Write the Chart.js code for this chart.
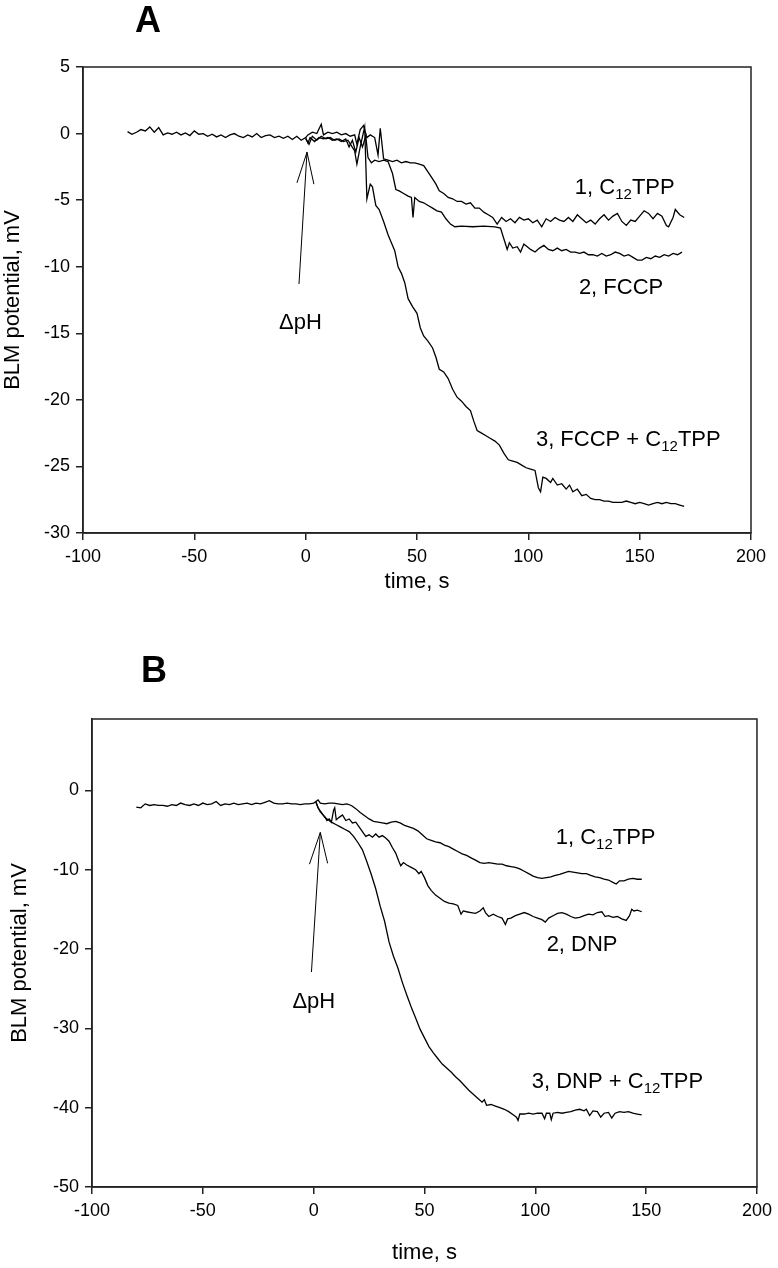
<!DOCTYPE html>
<html>
<head>
<meta charset="utf-8">
<script src="https://cdn.jsdelivr.net/npm/chart.js@4/dist/chart.umd.min.js"></script>
<style>
  body { margin: 0; background: #fff; width: 778px; height: 1268px; position: relative; overflow: hidden; }
  canvas { position: absolute; left: 0; }
  #panelA { top: 0; }
  #panelB { top: 640px; }
</style>
</head>
<body>
<canvas id="panelA" width="778" height="620"></canvas>
<canvas id="panelB" width="778" height="628"></canvas>
<script>
// ---- data (time s, BLM potential mV) ----

// axis ticks
const xTicks = [-100, -50, 0, 50, 100, 150, 200];
const aYTicks = [5, 0, -5, -10, -15, -20, -25, -30];
const bYTicks = [0, -10, -20, -30, -40, -50];

// panel A, 1: C12TPP (includes the common baseline before ΔpH)
const a1 = [
  [-80,0.15],[-78,-0.05],[-76,0.1],[-74,0.3],[-72,0.2],[-70,0.5],[-68,0.1],[-66,0.45],[-64,-0.1],[-62,0.05],
  [-60,-0.05],[-58,0.1],[-56,-0.1],[-54,0.05],[-52,-0.15],[-50,0.2],[-48,-0.05],[-46,0.0],[-44,-0.2],[-42,-0.05],
  [-40,-0.25],[-38,-0.1],[-36,-0.3],[-34,-0.1],[-32,0.0],[-30,-0.2],[-28,-0.3],[-26,-0.1],[-24,-0.25],[-22,0.0],
  [-20,-0.3],[-18,-0.15],[-16,-0.1],[-14,-0.3],[-12,-0.2],[-10,-0.35],[-8,-0.2],[-6,-0.45],[-4,-0.2],[-2,-0.5],[0,-0.3],
  [1,-0.1],[3,0.1],[5,0.0],[7,0.7],[8,-0.1],[10,0.1],[12,0.0],[14,0.1],[16,-0.1],[18,0.0],[20,-0.2],[22,-0.1],
  [23,-0.8],[24.5,0.3],[26,0.6],[27.5,-0.3],[29,-0.1],[31,-0.3],[32.5,-1.6],[33.5,0.4],[35,-1.9],[37,-2.0],[39,-2.1],
  [41,-2.0],[43,-2.2],[45,-2.1],[47,-2.2],[49,-2.2],[51,-2.3],[53,-2.4],[55,-2.9],[57,-3.4],[58.5,-3.8],[60,-4.3],
  [62,-4.5],[64,-4.8],[66,-4.9],[68,-5.1],[70,-5.1],[72,-5.3],[74,-5.2],[76,-5.6],[78,-5.6],[80,-5.9],[82,-6.1],
  [84,-6.3],[86,-6.8],[88,-6.3],[90,-6.6],[92,-6.4],[94,-6.7],[96,-6.3],[98,-6.5],[100,-6.4],[102,-6.7],[104,-6.5],
  [106,-7.0],[108,-6.4],[110,-6.6],[112,-6.3],[114,-6.5],[116,-6.6],[118,-6.3],[120,-6.6],[122,-6.1],[124,-6.4],
  [126,-6.7],[128,-6.5],[130,-6.8],[132,-6.4],[134,-6.1],[136,-6.5],[138,-6.2],[140,-6.0],[142,-6.6],[144,-6.9],
  [146,-6.5],[148,-6.6],[150,-6.2],[152,-5.8],[154,-6.0],[156,-6.4],[158,-6.0],[160,-6.2],[162,-6.9],[163,-7.0],
  [165,-6.3],[166,-5.7],[168,-6.1],[170,-6.3]
];

// panel A, 2: FCCP
const a2 = [
  [0,-0.3],[1,-0.7],[2,-0.3],[4,-0.6],[6,-0.3],[8,-0.4],[10,-0.3],[12,-0.5],[14,-0.4],[16,-0.6],[18,-0.4],
  [19.5,-1.0],[21,-0.5],[22.5,-1.4],[24,-0.3],[25.5,-1.0],[27,-0.2],[28,-1.8],[29.5,-2.2],[31,-2.0],[33,-2.1],
  [35,-2.0],[37,-2.1],[39,-3.0],[40.5,-4.2],[42,-4.3],[44,-4.5],[46,-4.7],[47.5,-4.8],[48.2,-6.3],[49,-4.8],
  [51,-5.1],[53,-5.2],[55,-5.4],[57,-5.6],[59,-5.8],[61,-5.9],[63,-6.4],[65,-6.8],[67,-7.0],[70,-6.95],[75,-7.0],
  [80,-6.95],[85,-7.0],[87.5,-7.1],[89,-7.9],[90.5,-8.7],[91.5,-8.2],[93,-8.6],[95,-8.5],[96.5,-8.9],[98,-8.3],
  [99.5,-8.5],[101,-8.7],[103,-8.9],[105,-8.6],[107,-8.4],[109,-8.7],[111,-8.8],[113,-8.6],[115,-8.8],[117,-8.7],
  [119,-8.9],[121,-8.9],[123,-9.0],[125,-8.9],[127,-9.1],[129,-9.1],[131,-9.2],[133,-9.0],[135,-9.2],[137,-9.1],
  [139,-8.9],[141,-9.0],[143,-9.2],[145,-9.1],[147,-9.3],[149,-9.5],[151,-9.5],[153,-9.3],[155,-9.4],[157,-9.2],
  [159,-9.3],[161,-9.1],[163,-9.2],[165,-9.0],[167,-9.1],[169,-8.9]
];

// panel A, 3: FCCP + C12TPP
const a3 = [
  [0,-0.4],[1.5,-0.8],[3,-0.2],[5,-0.5],[7,-0.2],[9,-0.4],[11,-0.3],[13,-0.5],[15,-0.4],[17,-0.6],[19,-0.5],
  [20.5,-0.9],[22,-1.3],[23,-2.3],[24.5,-1.0],[26.5,0.5],[27.5,-4.9],[29,-3.8],[30,-4.0],[31.5,-5.4],[33,-5.7],
  [35,-6.6],[37,-7.6],[38.5,-8.2],[40,-8.8],[41.5,-10.0],[43,-10.5],[44.5,-11.2],[46,-12.4],[48,-13.0],[50,-13.5],
  [51.5,-14.6],[53,-15.2],[55,-15.6],[57,-16.1],[58.5,-16.8],[60,-17.7],[62,-17.9],[64,-18.4],[66,-19.2],[68,-19.8],
  [70,-20.1],[72,-20.5],[74,-20.8],[75.5,-21.6],[77,-22.3],[79,-22.5],[81,-22.7],[83,-22.9],[85,-23.1],[87,-23.4],
  [89,-24.0],[91,-24.5],[93,-24.6],[95,-24.7],[97,-24.9],[99,-25.1],[101,-25.2],[103,-25.3],[104.5,-26.6],
  [105.5,-26.9],[106.5,-25.8],[108,-25.9],[110,-26.2],[111,-25.9],[113,-26.4],[115,-26.3],[117,-26.7],[118.5,-26.4],
  [120,-26.9],[122,-26.7],[124,-27.2],[126,-27.1],[128,-27.4],[130,-27.5],[132,-27.5],[134,-27.6],[136,-27.6],
  [138,-27.7],[140,-27.7],[142,-27.7],[144,-27.6],[146,-27.7],[148,-27.8],[150,-27.7],[152,-27.8],[154,-27.9],
  [156,-27.8],[158,-27.7],[160,-27.8],[162,-27.7],[164,-27.8],[166,-27.8],[168,-27.9],[170,-28.0]
];

// panel B, 1: C12TPP (includes the common baseline)
const b1 = [
  [-80,-2.1],[-78,-2.2],[-76,-1.7],[-74,-1.9],[-72,-1.8],[-70,-1.9],[-68,-1.9],[-66,-2.0],[-64,-1.8],[-62,-1.9],
  [-60,-1.6],[-58,-1.8],[-56,-1.9],[-54,-1.7],[-52,-1.9],[-50,-1.6],[-48,-1.8],[-46,-1.7],[-44,-1.4],[-42,-1.9],
  [-40,-1.7],[-38,-1.8],[-36,-1.6],[-34,-1.8],[-32,-1.7],[-30,-1.6],[-28,-1.8],[-26,-1.6],[-24,-1.7],[-22,-1.5],
  [-20,-1.3],[-18,-1.6],[-16,-1.7],[-14,-1.7],[-12,-1.6],[-10,-1.7],[-8,-1.7],[-6,-1.8],[-4,-1.7],[-2,-1.7],[0,-1.6],
  [1,-1.4],[2,-1.2],[3,-1.6],[5,-1.7],[7,-1.6],[9,-1.6],[11,-1.7],[13,-1.8],[15,-1.7],[17,-1.9],[19,-2.3],[21,-2.8],
  [23,-3.2],[25,-3.6],[27,-3.9],[29,-4.0],[31,-4.1],[33,-4.2],[35,-4.0],[37,-3.9],[39,-4.1],[41,-4.4],[43,-4.6],
  [45,-4.8],[47,-5.1],[49,-5.6],[51,-6.1],[53,-6.3],[55,-6.5],[57,-6.6],[59,-6.9],[61,-7.1],[63,-7.4],[65,-7.7],
  [67,-8.0],[69,-8.2],[71,-8.5],[73,-8.8],[75,-9.1],[77,-9.2],[79,-9.1],[81,-9.2],[83,-9.3],[85,-9.3],[87,-9.5],
  [89,-9.6],[91,-9.7],[93,-9.9],[95,-10.2],[97,-10.5],[99,-10.8],[101,-11.0],[103,-11.1],[105,-11.0],[107,-10.9],
  [109,-10.7],[111,-10.6],[113,-10.4],[115,-10.2],[117,-10.3],[119,-10.4],[121,-10.5],[123,-10.5],[125,-10.7],
  [127,-10.9],[129,-11.0],[131,-11.2],[133,-11.3],[135,-11.6],[136.5,-11.8],[138,-11.4],[140,-11.4],[142,-11.2],
  [144,-11.1],[146,-11.2],[148,-11.2]
];

// panel B, 2: DNP
const b2 = [
  [1,-1.5],[2,-2.2],[3,-2.7],[4,-3.0],[5,-3.3],[6,-3.8],[7,-3.6],[8,-4.0],[9,-2.5],[9.5,-2.2],[10.2,-3.7],
  [11.5,-3.4],[13,-3.1],[14.5,-3.8],[16,-3.6],[17.5,-4.1],[19,-4.0],[20.5,-4.6],[22,-5.2],[23.5,-5.8],[25,-5.6],
  [26.5,-5.9],[28,-5.5],[29.5,-5.9],[31,-5.7],[32.5,-6.0],[34,-6.4],[35.5,-7.2],[37,-7.9],[38.5,-9.0],[39.3,-9.5],
  [40.5,-9.1],[42,-9.4],[44,-9.7],[46,-10.0],[47.5,-10.5],[48.5,-10.2],[50,-11.0],[51.5,-12.0],[53,-12.6],
  [55,-13.2],[57,-13.6],[59,-14.0],[61,-14.2],[63,-14.3],[65,-14.5],[66.5,-15.6],[67.5,-15.2],[69,-15.3],
  [71,-15.4],[73,-15.5],[75,-15.2],[76.5,-14.8],[77.5,-15.4],[79,-15.9],[81,-15.6],[83,-15.9],[85,-16.1],
  [86.5,-16.9],[87.5,-16.2],[89,-16.1],[91,-15.8],[93,-15.6],[95,-15.4],[97,-15.6],[99,-15.9],[101,-16.1],
  [103,-16.3],[104.5,-16.6],[106,-16.1],[108,-15.8],[110,-15.5],[112,-15.4],[114,-15.6],[116,-15.9],[118,-16.1],
  [120,-16.0],[122,-15.8],[124,-15.6],[126,-15.7],[128,-15.4],[130,-15.3],[131.5,-15.9],[133,-15.8],[135,-16.0],
  [137,-15.9],[139,-16.2],[141,-16.4],[142.5,-15.8],[143.5,-15.0],[144.5,-15.2],[146,-15.1],[148,-15.3]
];

// panel B, 3: DNP + C12TPP
const b3 = [
  [1,-1.4],[2,-2.2],[3.5,-2.8],[5,-3.4],[6.5,-3.7],[8,-4.0],[10,-4.3],[12,-4.6],[14,-4.9],[16,-5.2],[18,-5.8],
  [20,-6.6],[22,-7.5],[24,-9.0],[26,-10.6],[28,-12.4],[30,-14.6],[32,-16.5],[34,-19.1],[36,-20.9],[38,-22.4],
  [40,-24.2],[42,-25.8],[44,-27.3],[46,-28.7],[48,-30.1],[50,-31.2],[52,-32.3],[54,-33.1],[56,-33.8],[58,-34.5],
  [60,-35.0],[62,-35.5],[64,-36.1],[66,-36.6],[68,-37.2],[70,-37.8],[72,-38.3],[74,-38.8],[76,-39.3],[77,-39.0],
  [78,-39.7],[80,-39.6],[82,-39.8],[84,-40.0],[86,-40.2],[88,-40.5],[90,-40.9],[91.5,-41.2],[92.2,-41.6],[93,-40.8],
  [95,-40.8],[97,-40.7],[99,-40.8],[101,-40.7],[103,-40.7],[104.2,-41.4],[105,-40.7],[106.5,-40.7],[107.2,-41.5],
  [108,-40.7],[110,-40.6],[112,-40.7],[114,-40.6],[116,-40.5],[118,-40.3],[120,-40.2],[122,-40.4],[123,-40.2],
  [124.5,-41.0],[126,-40.4],[128,-40.5],[129.5,-41.2],[131,-40.7],[133,-40.6],[134.5,-41.3],[136,-40.7],[138,-40.5],
  [140,-40.6],[142,-40.5],[144,-40.7],[146,-40.8],[148,-40.9]
];

// ---- styling ----
const FONT = '"Liberation Sans", Arial, Helvetica, sans-serif';
Chart.defaults.font.family = FONT;
Chart.defaults.color = '#000';

// labels: [text, isSubscript] parts, placed by data coordinates (left edge, middle)
function drawLabel(ctx, px, py, parts) {
  let cx = px;
  parts.forEach(([txt, sub]) => {
    ctx.font = (sub ? '15px ' : '22px ') + FONT;
    ctx.fillText(txt, cx, sub ? py + 7 : py);
    cx += ctx.measureText(txt).width;
  });
}

// frame, panel letter, ΔpH arrow and curve labels
const overlay = {
  id: 'overlay',
  afterDraw(chart, args, opts) {
    const { ctx, chartArea: ca, scales: { x, y } } = chart;
    const px = v => x.getPixelForValue(v);
    const py = v => y.getPixelForValue(v);
    ctx.save();

    ctx.strokeStyle = '#222';
    ctx.lineWidth = 1.5;
    ctx.strokeRect(ca.left, ca.top, ca.right - ca.left, ca.bottom - ca.top);

    ctx.fillStyle = '#000';
    ctx.font = 'bold 36px ' + FONT;
    ctx.textAlign = 'center';
    ctx.textBaseline = 'alphabetic';
    ctx.fillText(opts.letter, opts.letterX, opts.letterY);

    // arrow
    const a = opts.arrow;
    ctx.strokeStyle = '#000';
    ctx.lineWidth = 1;
    ctx.beginPath();
    ctx.moveTo(px(a.tail[0]), py(a.tail[1]));
    ctx.lineTo(px(a.tip[0]), py(a.tip[1]));
    ctx.moveTo(px(a.left[0]), py(a.left[1]));
    ctx.lineTo(px(a.tip[0]), py(a.tip[1]));
    ctx.lineTo(px(a.right[0]), py(a.right[1]));
    ctx.stroke();

    ctx.textAlign = 'left';
    ctx.textBaseline = 'middle';
    opts.notes.forEach(n => drawLabel(ctx, px(n.x), py(n.y), n.parts));

    ctx.restore();
  }
};

function makePanel(id, seriesList, yTicks, opt) {
  const datasets = seriesList.map(s => ({
    data: s.map(p => ({ x: p[0], y: p[1] })),
    showLine: true,
    borderColor: '#000',
    borderWidth: 1.3,
    pointRadius: 0,
    tension: 0,
    fill: false
  }));

  return new Chart(document.getElementById(id), {
    type: 'scatter',
    data: { datasets },
    options: {
      responsive: false,
      animation: false,
      devicePixelRatio: 1,
      layout: { padding: { top: opt.padTop, right: opt.padRight, left: 0, bottom: 0 } },
      plugins: {
        legend: { display: false },
        tooltip: { enabled: false },
        overlay: opt.overlay
      },
      scales: {
        x: {
          type: 'linear',
          min: -100,
          max: 200,
          afterBuildTicks: s => { s.ticks = xTicks.map(v => ({ value: v })); },
          afterFit: s => { s.height = opt.xAxisH; },
          grid: { drawOnChartArea: false, drawTicks: true, tickLength: 7, color: '#222', lineWidth: 1.5 },
          border: { color: '#222', width: 1.5 },
          ticks: { font: { size: 18 }, color: '#000', padding: 6, maxRotation: 0 },
          title: { display: true, text: 'time, s', font: { size: 22 }, color: '#000', padding: { top: 0, bottom: opt.xTitlePad } }
        },
        y: {
          type: 'linear',
          min: opt.yMin,
          max: opt.yMax,
          afterBuildTicks: s => { s.ticks = yTicks.map(v => ({ value: v })); },
          afterFit: s => { s.width = opt.yAxisW; },
          grid: { drawOnChartArea: false, drawTicks: true, tickLength: 7, color: '#222', lineWidth: 1.5 },
          border: { color: '#222', width: 1.5 },
          ticks: { font: { size: 18 }, color: '#000', padding: 6 },
          title: { display: true, text: 'BLM potential, mV', font: { size: 22 }, color: '#000', padding: { top: opt.yTitlePad, bottom: 0 } }
        }
      }
    },
    plugins: [overlay]
  });
}

makePanel('panelA', [a1, a2, a3], aYTicks, {
  yMin: -30, yMax: 5,
  padTop: 67, padRight: 27, xAxisH: 87, yAxisW: 83,
  xTitlePad: 25, yTitlePad: 0,
  overlay: {
    letter: 'A', letterX: 148, letterY: 32,
    arrow: { tail: [-3.0, -11.3], tip: [0.6, -1.4], left: [-3.9, -3.7], right: [3.7, -3.8] },
    notes: [
      { x: 120.9, y: -4.1, parts: [['1, C', 0], ['12', 1], ['TPP', 0]] },
      { x: 122.7, y: -11.6, parts: [['2, FCCP', 0]] },
      { x: 103.4, y: -23.0, parts: [['3, FCCP + C', 0], ['12', 1], ['TPP', 0]] },
      { x: -12.0, y: -14.2, parts: [['ΔpH', 0]] }
    ]
  }
});

makePanel('panelB', [b1, b2, b3], bYTicks, {
  yMin: -50, yMax: 9,
  padTop: 79, padRight: 19, xAxisH: 81, yAxisW: 92,
  xTitlePad: 2, yTitlePad: 7,
  overlay: {
    letter: 'B', letterX: 154, letterY: 42,
    arrow: { tail: [-1.0, -22.9], tip: [3.0, -5.3], left: [-1.9, -9.3], right: [6.3, -9.2] },
    notes: [
      { x: 109.2, y: -6.0, parts: [['1, C', 0], ['12', 1], ['TPP', 0]] },
      { x: 105.1, y: -19.5, parts: [['2, DNP', 0]] },
      { x: 98.4, y: -36.8, parts: [['3, DNP + C', 0], ['12', 1], ['TPP', 0]] },
      { x: -9.6, y: -26.7, parts: [['ΔpH', 0]] }
    ]
  }
});
</script>
</body>
</html>
